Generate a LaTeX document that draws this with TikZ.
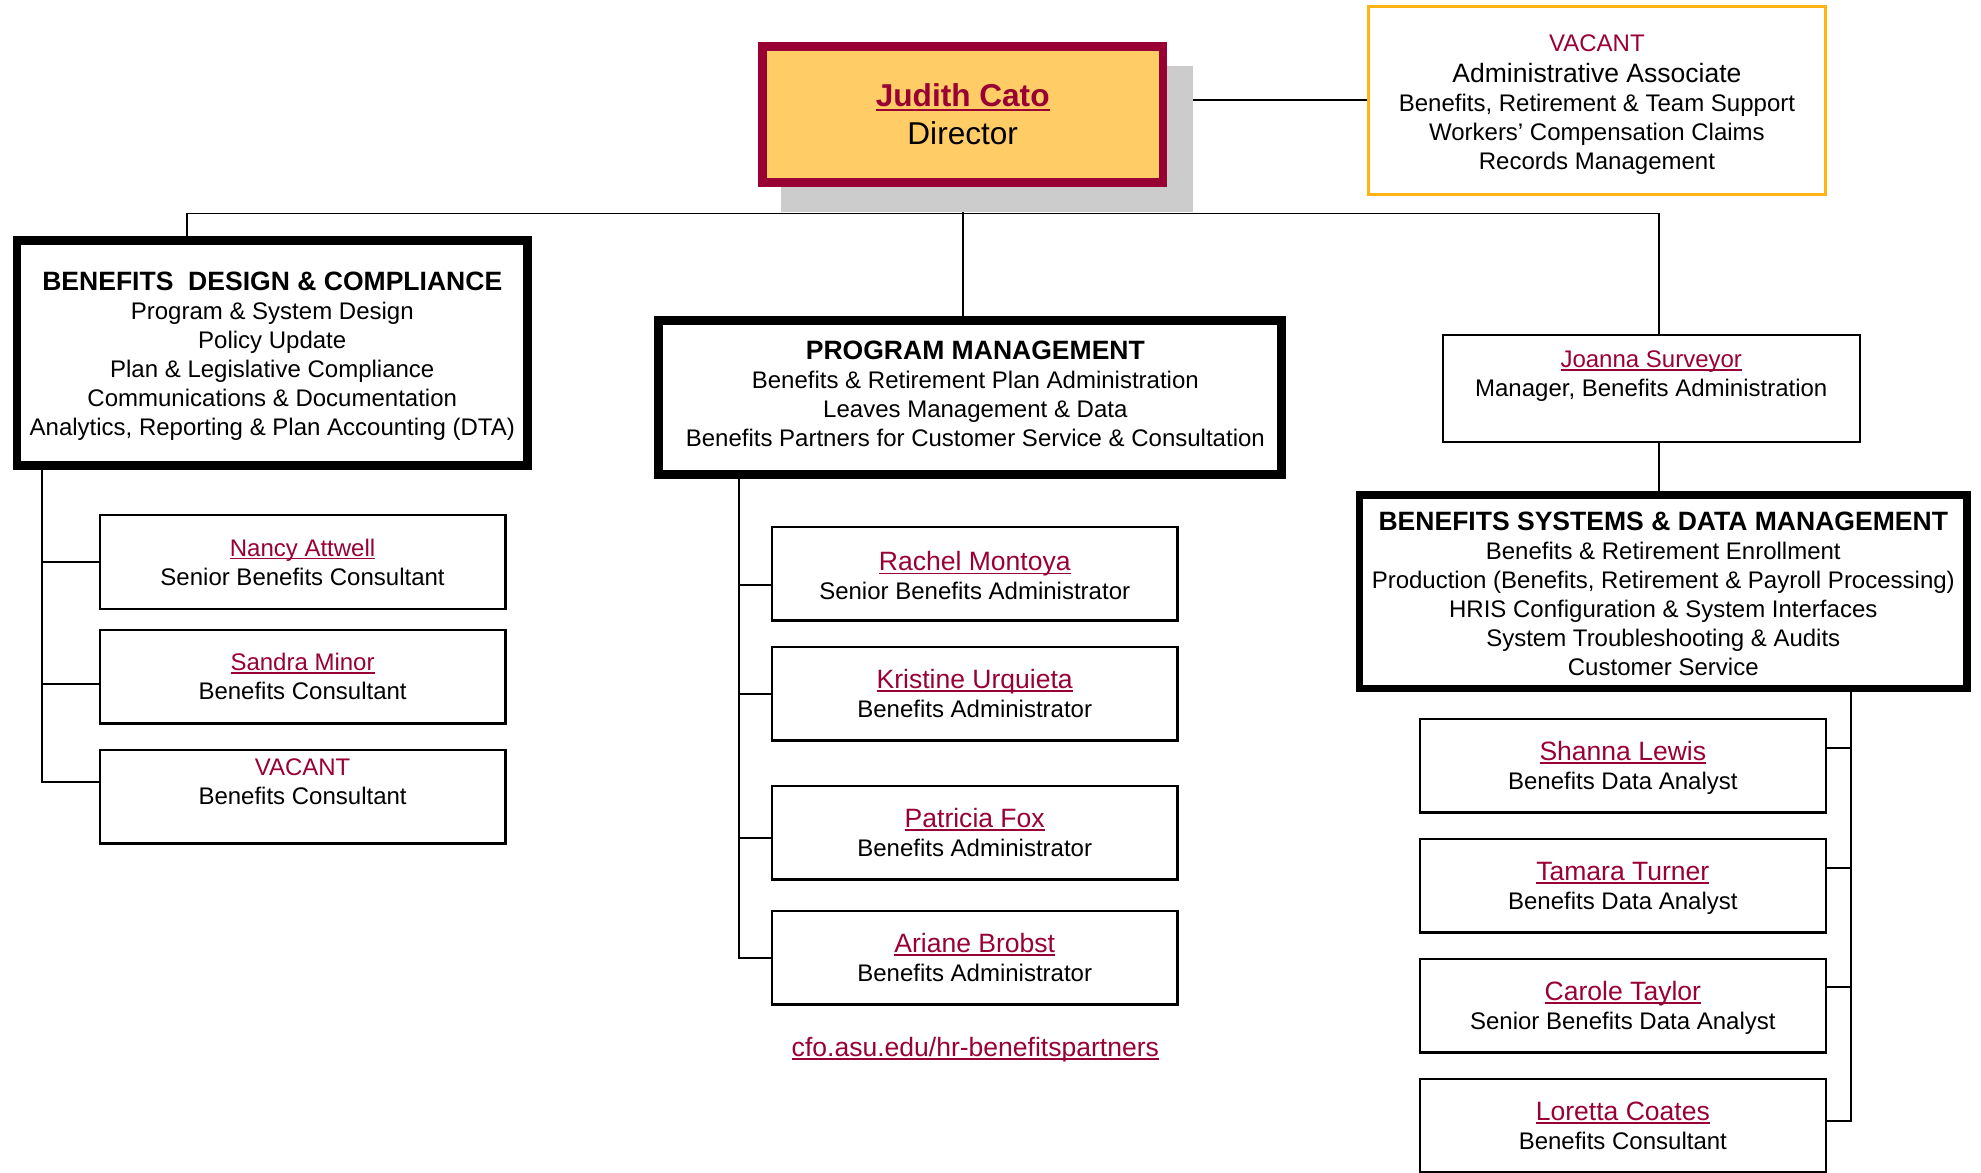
\documentclass[tikz,border=0pt]{standalone}
\usepackage{fontspec}
\setmainfont{Liberation Sans}
\definecolor{asumaroon}{RGB}{153,0,51}
\definecolor{asugold}{RGB}{255,204,102}
\definecolor{vacgold}{RGB}{255,180,20}
\definecolor{shadowgray}{RGB}{204,204,204}
\newcommand\myul[1]{\leavevmode\setbox0\hbox{#1}\rlap{\rule[-0.13em]{\wd0}{0.065em}}\box0}
\newcommand\mybody{\fontsize{19}{23}\selectfont}
\newcommand\myhead[1]{{\fontsize{21}{24}\selectfont\bfseries #1}}
\newcommand\bigname[1]{{\color{asumaroon}\fontsize{21}{24}\selectfont\myul{#1}}}
\newcommand\smallname[1]{{\color{asumaroon}\myul{#1}}}
\newcommand\pmshift{\hspace*{8pt}}
\pgfdeclarelayer{background}
\pgfsetlayers{background,main}
\begin{document}
\begin{tikzpicture}[x=1pt,y=-1pt,
  conn/.style={draw=black,line width=1.5pt},
  thinbox/.style={rectangle,draw=black,fill=white,line width=1.8pt,inner sep=0pt,outer sep=0pt,align=center,font=\mybody},
  thickbox/.style={thinbox,line width=7pt},
  childbox/.style={thinbox,minimum width=321.2pt,minimum height=74.2pt},
  dirbox/.style={rectangle,draw=asumaroon,fill=asugold,line width=7pt,inner sep=0pt,outer sep=0pt,align=center,font=\fontsize{25}{30}\selectfont},
  vacbox/.style={thinbox,draw=vacgold,line width=2.5pt}
]
\useasboundingbox (0,0) rectangle (1568,928);

% top
\node[dirbox,minimum width=317pt,minimum height=108pt] (director) at (762,90.5)
  {{\bfseries\color{asumaroon}\myul{Judith Cato}}\\Director};
\node[vacbox,minimum width=361.5pt,minimum height=148.5pt] (vacant) at (1264,79.5)
  {\rule{0pt}{20pt}{\color{asumaroon}VACANT}\\[2pt]{\fontsize{21}{25}\selectfont Administrative Associate}\\Benefits, Retirement \& Team Support\\Workers’ Compensation Claims\\Records Management};

% department boxes
\node[thickbox,minimum width=404pt,minimum height=178pt] (bdc) at (215.5,279.5)
  {\rule{0pt}{20pt}\myhead{BENEFITS \ DESIGN \& COMPLIANCE}\\Program \& System Design\\Policy Update\\Plan \& Legislative Compliance\\Communications \& Documentation\\Analytics, Reporting \& Plan Accounting (DTA)};
\node[thickbox,minimum width=493pt,minimum height=122pt] (pm) at (768,314.5)
  {\pmshift\myhead{PROGRAM MANAGEMENT}\\\pmshift Benefits \& Retirement Plan Administration\\\pmshift Leaves Management \& Data\\\pmshift Benefits Partners for Customer Service \& Consultation\rule[-6pt]{0pt}{1pt}};
\node[thinbox,minimum width=330.2pt,minimum height=85.2pt] (joanna) at (1307,307.5)
  {\smallname{Joanna Surveyor}\\Manager, Benefits Administration\\\mbox{}};
\node[thickbox,line width=6pt,minimum width=481pt,minimum height=153pt] (bsdm) at (1316.5,468.5)
  {\rule{0pt}{18pt}\myhead{BENEFITS SYSTEMS \& DATA MANAGEMENT}\\Benefits \& Retirement Enrollment\\Production (Benefits, Retirement \& Payroll Processing)\\HRIS Configuration \& System Interfaces\\System Troubleshooting \& Audits\\Customer Service};

% left children
\node[childbox] (nancy) at (239.5,445) {\smallname{Nancy Attwell}\\Senior Benefits Consultant};
\node[childbox] (sandra) at (239.5,535.5) {\smallname{Sandra Minor}\\Benefits Consultant};
\node[childbox] (lvac) at (239.5,630.5) {{\color{asumaroon}VACANT}\\Benefits Consultant\\\mbox{}};

% middle children
\node[childbox] (rachel) at (771.5,454) {\rule{0pt}{19pt}\bigname{Rachel Montoya}\\Senior Benefits Administrator};
\node[childbox] (kristine) at (771.5,549) {\bigname{Kristine Urquieta}\\Benefits Administrator};
\node[childbox] (patricia) at (771.5,659) {\bigname{Patricia Fox}\\Benefits Administrator};
\node[childbox] (ariane) at (771.5,758) {\bigname{Ariane Brobst}\\Benefits Administrator};
\node[font=\fontsize{21}{24}\selectfont,text=asumaroon,inner sep=0pt] (link) at (772,831) {\myul{cfo.asu.edu/hr-benefitspartners}};

% right children
\node[childbox] (shanna) at (1284.5,606) {\rule{0pt}{19pt}\bigname{Shanna Lewis}\\Benefits Data Analyst};
\node[childbox] (tamara) at (1284.5,701) {\rule{0pt}{19pt}\bigname{Tamara Turner}\\Benefits Data Analyst};
\node[childbox] (carole) at (1284.5,796) {\rule{0pt}{19pt}\bigname{Carole Taylor}\\Senior Benefits Data Analyst};
\node[childbox] (loretta) at (1284.5,891) {\bigname{Loretta Coates}\\Benefits Consultant};

\coordinate (busL) at (148,169);
\coordinate (busR) at (1313,169);
\coordinate (tL) at (33,0);
\coordinate (tM) at (585,0);
\coordinate (tR) at (1465,0);
\coordinate (cSandra) at ([yshift=-6pt]sandra.west);
\coordinate (cLvac) at ([yshift=11.5pt]lvac.west);
\coordinate (cRachel) at ([yshift=-9pt]rachel.west);
\coordinate (cPatricia) at ([yshift=-4pt]patricia.west);
\coordinate (cShanna) at ([yshift=14pt]shanna.east);
\coordinate (cTamara) at ([yshift=14pt]tamara.east);
\coordinate (cCarole) at ([yshift=15pt]carole.east);
\coordinate (cLoretta) at ([yshift=4pt]loretta.east);

\begin{pgfonlayer}{background}
  \draw[conn] (vacant.west) -- (vacant.west -| director.east);
  \draw[conn] (director.south) -- (director.south |- pm.north);
  \draw[conn] (bdc.north -| busL) -- (busL) -- (busR) -- (busR |- joanna.north);
  \draw[conn] (joanna.south -| busR) -- (bsdm.north -| busR);
  % left
  \draw[conn] (bdc.south -| tL) |- (cLvac);
  \draw[conn] (nancy.west -| tL) -- (nancy.west);
  \draw[conn] (cSandra -| tL) -- (cSandra);
  % middle
  \draw[conn] (pm.south -| tM) |- (ariane.west);
  \draw[conn] (cRachel -| tM) -- (cRachel);
  \draw[conn] (kristine.west -| tM) -- (kristine.west);
  \draw[conn] (cPatricia -| tM) -- (cPatricia);
  % right
  \draw[conn] (bsdm.south -| tR) |- (cLoretta);
  \draw[conn] (cShanna -| tR) -- (cShanna);
  \draw[conn] (cTamara -| tR) -- (cTamara);
  \draw[conn] (cCarole -| tR) -- (cCarole);
  % shadow of director box
  \fill[shadowgray] (618,52) rectangle (944,168);
\end{pgfonlayer}
\end{tikzpicture}
\end{document}
